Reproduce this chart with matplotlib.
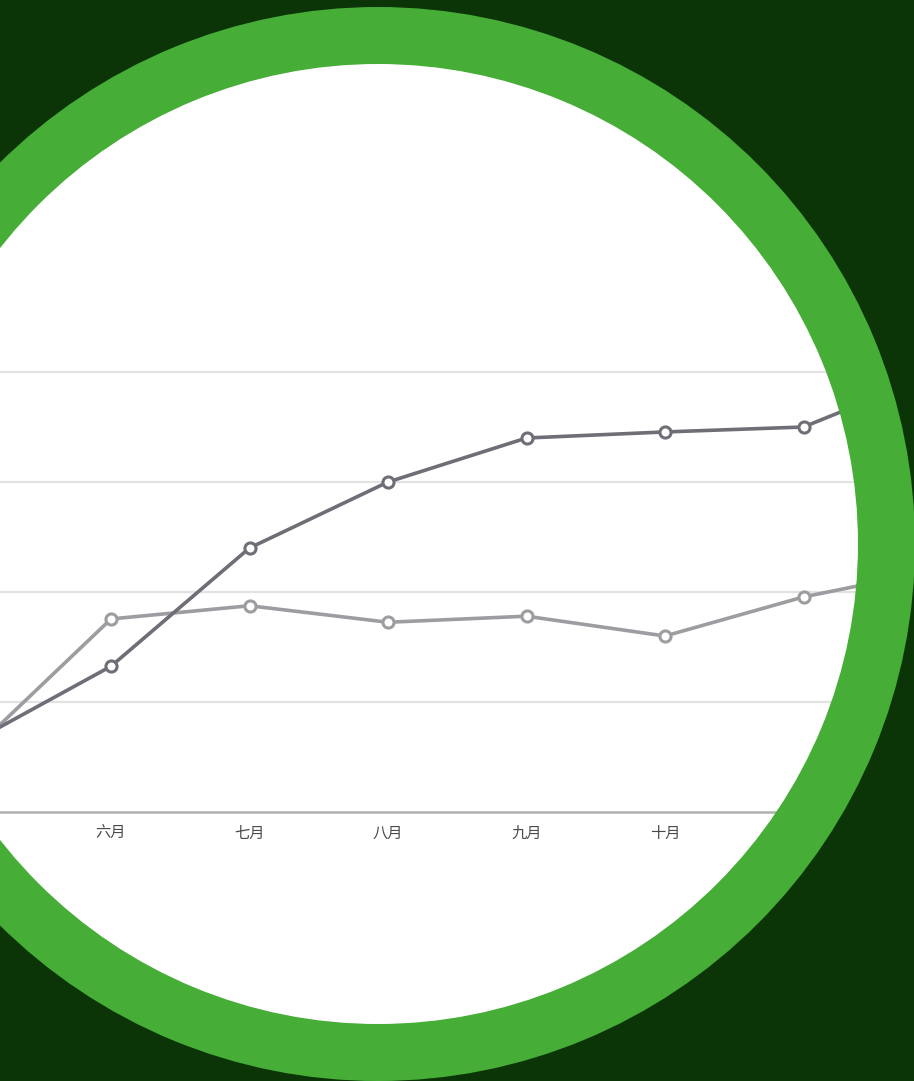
import matplotlib.pyplot as plt
from matplotlib.patches import Wedge

plt.rcParams['font.family'] = ['Noto Sans CJK SC', 'DejaVu Sans']

months = ['五月', '六月', '七月', '八月', '九月', '十月', '十一月', '十二月']
dark_vals = [12.7, 26.5, 48.0, 60.0, 68.0, 69.1, 70.0, 80.2]
light_vals = [11.1, 35.1, 37.5, 34.5, 35.6, 32.0, 39.1, 44.2]
grid_vals = [20, 40, 60, 80]

W, H = 914, 1081
fig = plt.figure(figsize=(W / 100, H / 100), dpi=100)
fig.patch.set_facecolor('white')

# chart axes: month i sits at pixel -27.5 + 138.5*i, value 0 at pixel row 812, 5.5 px per unit
ax_top_px = 300
ax = fig.add_axes([0, (H - 812) / H, 1, (812 - ax_top_px) / H])
ax.set_facecolor('none')

for g in grid_vals:
    ax.axhline(g, color='#e2e2e2', lw=1.6, zorder=1)

x = list(range(len(months)))
ax.plot(x, light_vals, color='#9d9da1', lw=2.6, marker='o', ms=8,
        mfc='white', mec='#9d9da1', mew=2.2, zorder=3, clip_on=False)
ax.plot(x, dark_vals, color='#6e6e77', lw=2.6, marker='o', ms=8,
        mfc='white', mec='#6e6e77', mew=2.2, zorder=4, clip_on=False)

for s in ['top', 'left', 'right']:
    ax.spines[s].set_visible(False)
ax.spines['bottom'].set_color('#b0b0b0')
ax.spines['bottom'].set_linewidth(1.8)
ax.set_yticks([])
ax.set_xticks(x)
ax.set_xticklabels(months, fontsize=11, color='#4a4a4a')
ax.tick_params(axis='x', length=0, pad=9)
# limits last, set_xticks would widen them otherwise
ax.set_xlim(27.5 / 138.5, (W + 27.5) / 138.5)
ax.set_ylim(0, (812 - ax_top_px) / 5.5)

# frame on top: green ring and dark surround
ov = fig.add_axes([0, 0, 1, 1])
ov.set_xlim(0, W)
ov.set_ylim(H, 0)
ov.axis('off')
ov.set_facecolor('none')
cx, cy = 378, 544
ov.add_patch(Wedge((cx, cy), 1400, 0, 360, width=1400 - 536, color='#0b3506', lw=0))
ov.add_patch(Wedge((cx, cy), 537, 0, 360, width=57, color='#46ad37', lw=0))

fig.savefig('out.png', dpi=100)
